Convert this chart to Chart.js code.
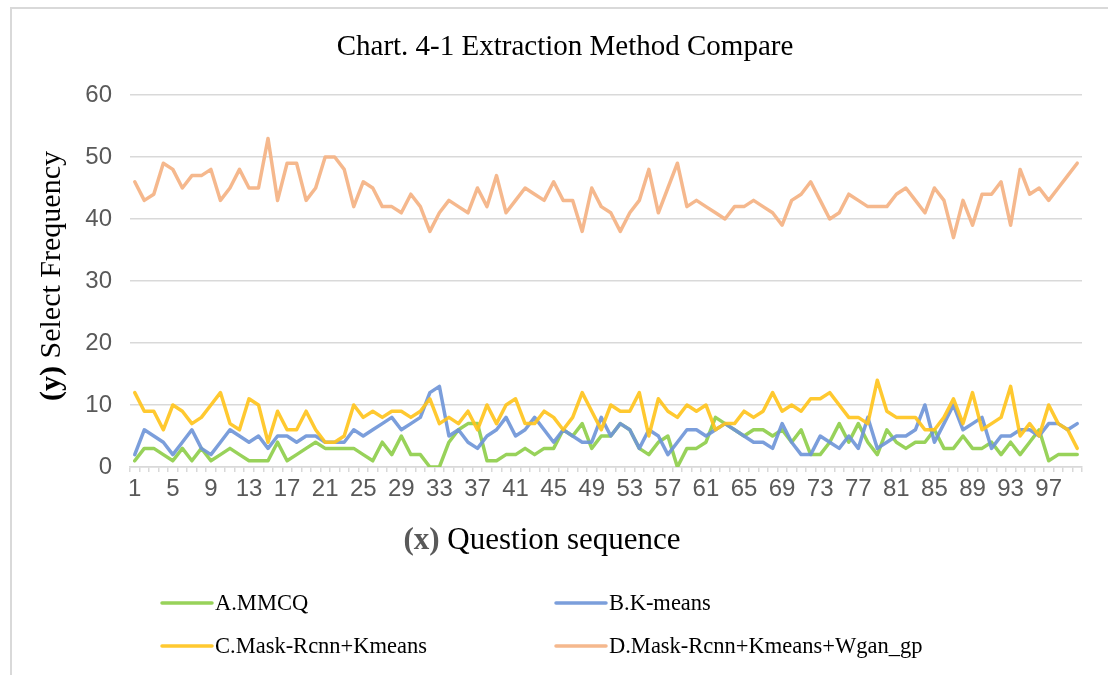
<!DOCTYPE html>
<html>
<head>
<meta charset="utf-8">
<script src="https://cdn.jsdelivr.net/npm/chart.js@4"></script>
<style>
  html, body { margin: 0; padding: 0; background: #fff; }
  #wrap { position: relative; width: 1108px; height: 675px; overflow: hidden; }
  #frame { position: absolute; left: 10px; top: 7px; width: 1200px; height: 800px;
           border-left: 2px solid #d9d9d9; border-top: 2px solid #d9d9d9; }
  canvas { position: absolute; left: 0; top: 0; }
</style>
</head>
<body>
<div id="wrap">
  <div id="frame"></div>
  <canvas id="c" width="1108" height="675"></canvas>
</div>
<script>
// ---- data ----
const chartTitle = "Chart. 4-1 Extraction Method Compare";
const xTitleBold = "(x)";
const xTitleText = " Question sequence";
const yTitleBold = "(y)";
const yTitleText = " Select Frequency";

const categories = Array.from({length: 100}, (_, i) => String(i + 1));
const yTicks = [0, 10, 20, 30, 40, 50, 60];

const seriesNames = ["A.MMCQ", "B.K-means", "C.Mask-Rcnn+Kmeans", "D.Mask-Rcnn+Kmeans+Wgan_gp"];

const seriesA = [1,3,3,2,1,3,1,3,1,2,3,2,1,1,1,4,1,2,3,4,3,3,3,3,2,1,4,2,5,2,2,0,0,4,
  6,7,7,1,1,2,2,3,2,3,3,6,5,7,3,5,5,7,6,3,2,4,5,0,3,3,4,8,7,6,5,6,
  6,5,6,4,6,2,2,4,7,4,7,4,2,6,4,3,4,4,6,3,3,5,3,3,4,2,4,2,4,6,1,2,2,2];

const seriesB = [2,6,5,4,2,4,6,3,2,4,6,5,4,5,3,5,5,4,5,5,4,4,4,6,5,6,7,8,6,7,8,12,13,5,
  6,4,3,5,6,8,5,6,8,6,4,6,5,4,4,8,5,7,6,3,6,5,2,4,6,6,5,6,7,6,5,4,
  4,3,7,4,2,2,5,4,3,5,3,8,3,4,5,5,6,10,4,7,10,6,7,8,3,5,5,6,6,5,7,7,6,7];

const seriesC = [12,9,9,6,10,9,7,8,10,12,7,6,11,10,4,9,6,6,9,6,4,4,5,10,8,9,8,9,9,8,9,11,7,8,
  7,9,6,10,7,10,11,7,7,9,8,6,8,12,9,6,10,9,9,12,5,11,9,8,10,9,10,6,7,7,9,8,
  9,12,9,10,9,11,11,12,10,8,8,7,14,9,8,8,8,6,6,8,11,7,12,6,7,8,13,5,7,5,10,7,6,3];

const seriesD = [46,43,44,49,48,45,47,47,48,43,45,48,45,45,53,43,49,49,43,45,50,50,48,42,46,45,42,42,41,44,42,38,41,43,
  42,41,45,42,47,41,43,45,44,43,46,43,43,38,45,42,41,38,41,43,48,41,45,49,42,43,42,41,40,42,42,43,
  42,41,39,43,44,46,43,40,41,44,43,42,42,42,44,45,43,41,45,43,37,43,39,44,44,46,39,48,44,45,43,45,47,49];

const seriesColors = ["rgba(143,206,76,0.92)", "rgba(112,150,216,0.92)", "rgba(255,196,30,0.92)", "rgba(244,180,135,0.95)"];

// ---- styling ----
const SERIF = "'Liberation Serif', 'Times New Roman', serif";
const SANS = "'Liberation Sans Narrow', 'Liberation Sans', Arial, sans-serif";
const GRID = "#d9d9d9";
const TICK = "#595959";

const overlayPlugin = {
  id: 'overlay',
  afterDraw(chart) {
    const ctx = chart.ctx;
    ctx.save();
    // title
    ctx.fillStyle = "#000";
    ctx.font = "29px " + SERIF;
    ctx.textAlign = "center";
    ctx.textBaseline = "middle";
    ctx.fillText(chartTitle, 565, 47);

    // axis titles (mixed bold)
    const drawMixed = (bold, normal, boldColor, size) => {
      ctx.font = "bold " + size + "px " + SERIF;
      const wb = ctx.measureText(bold).width;
      ctx.font = size + "px " + SERIF;
      const wn = ctx.measureText(normal).width;
      const start = -(wb + wn) / 2;
      ctx.textAlign = "left";
      ctx.textBaseline = "middle";
      ctx.font = "bold " + size + "px " + SERIF;
      ctx.fillStyle = boldColor;
      ctx.fillText(bold, start, 0);
      ctx.font = size + "px " + SERIF;
      ctx.fillStyle = "#000";
      ctx.fillText(normal, start + wb, 0);
    };
    ctx.save();
    ctx.translate(542, 541);
    drawMixed(xTitleBold, xTitleText, "#595959", 31);
    ctx.restore();

    ctx.save();
    ctx.translate(52, 276);
    ctx.rotate(-Math.PI / 2);
    drawMixed(yTitleBold, yTitleText, "#000", 30);
    ctx.restore();

    // legend (2 columns)
    const cols = [162, 556];
    const rows = [603, 646];
    chart.data.datasets.forEach((ds, i) => {
      const x = cols[i % 2];
      const y = rows[Math.floor(i / 2)];
      ctx.strokeStyle = ds.borderColor;
      ctx.lineWidth = 3.5;
      ctx.lineCap = "round";
      ctx.beginPath();
      ctx.moveTo(x, y);
      ctx.lineTo(x + 50, y);
      ctx.stroke();
      ctx.fillStyle = "#000";
      ctx.font = "22.5px " + SERIF;
      ctx.textAlign = "left";
      ctx.textBaseline = "middle";
      ctx.fillText(ds.label, x + 53, y + 1);
    });
    ctx.restore();
  }
};

const datasets = [seriesA, seriesB, seriesC, seriesD].map((d, i) => ({
  label: seriesNames[i],
  data: d,
  borderColor: seriesColors[i],
  backgroundColor: seriesColors[i],
  borderWidth: 3.5,
  pointRadius: 0,
  tension: 0,
  borderJoinStyle: 'round',
  borderCapStyle: 'round',
  order: 4 - i
}));

new Chart(document.getElementById('c'), {
  type: 'line',
  data: { labels: categories, datasets },
  options: {
    responsive: false,
    animation: false,
    devicePixelRatio: 1,
    layout: { padding: { left: 0, top: 95, right: 26, bottom: 168 } },
    plugins: { legend: { display: false }, title: { display: false }, tooltip: { enabled: false } },
    scales: {
      x: {
        offset: true,
        afterFit(scale) { scale.height = 40; },
        grid: { display: true, drawOnChartArea: false, drawTicks: true, tickLength: 5, color: GRID, lineWidth: 1.5, offset: true },
        border: { display: true, color: GRID, width: 1.5 },
        ticks: {
          autoSkip: false, maxRotation: 0, minRotation: 0, padding: 3,
          color: TICK, font: { family: SANS, size: 24 },
          callback(v, i) { return i % 4 === 0 ? categories[i] : ''; }
        }
      },
      y: {
        min: yTicks[0], max: yTicks[yTicks.length - 1],
        afterFit(scale) { scale.width = 130; },
        afterBuildTicks(scale) { scale.ticks = yTicks.map(v => ({ value: v })); },
        grid: { color: GRID, lineWidth: 1.5, drawTicks: false },
        border: { display: false },
        ticks: { color: TICK, padding: 18, font: { family: SANS, size: 24 } }
      }
    }
  },
  plugins: [overlayPlugin]
});
</script>
</body>
</html>
